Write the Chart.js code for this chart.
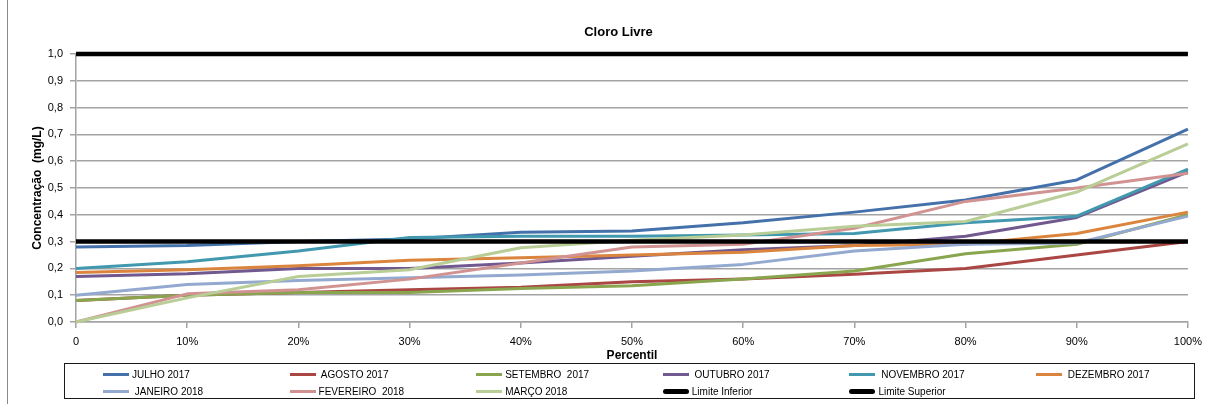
<!DOCTYPE html>
<html lang="pt">
<head>
<meta charset="utf-8">
<script src="https://cdn.jsdelivr.net/npm/chart.js@4.4.1/dist/chart.umd.min.js"></script>
<style>
  html, body { margin: 0; padding: 0; background: #ffffff; }
  #wrap { position: relative; width: 1209px; height: 404px; overflow: hidden; background: #ffffff; }
  #frame { position: absolute; left: 7px; top: 0; width: 1px; height: 404px; background: #8a8a8a; }
  #c { position: absolute; left: 0; top: 0; }
  #title { position: absolute; left: 0; top: 24px; width: 1237px; text-align: center;
           font: bold 13px "Liberation Sans", Arial, sans-serif; color: #000; }
  #legend { position: absolute; left: 64px; top: 363px; width: 1131px; height: 36px;
            border: 1.5px solid #1a1a1a; box-sizing: border-box; }
  .item { position: absolute; display: flex; align-items: center; height: 14px;
          font: 10px "Liberation Sans", Arial, sans-serif; color: #000; white-space: pre; }
  .swatch { width: 26px; margin-right: 3px; }
</style>
</head>
<body>
<div id="wrap">
  <div id="frame"></div>
  <canvas id="c" width="1209" height="404"></canvas>
  <div id="title">Cloro Livre</div>
  <div id="legend"></div>
</div>
<script>
// Percentile categories on the x axis
const percentis = ['0', '10%', '20%', '30%', '40%', '50%', '60%', '70%', '80%', '90%', '100%'];

// Y axis tick labels (mg/L, decimal comma)
const yTickLabels = ['0,0', '0,1', '0,2', '0,3', '0,4', '0,5', '0,6', '0,7', '0,8', '0,9', '1,0'];

// Free chlorine concentration per percentile, one series per month (mg/L)
const julho2017     = [0.28, 0.285, 0.30, 0.31, 0.335, 0.34, 0.37, 0.41, 0.455, 0.53, 0.72];
const agosto2017    = [0.08, 0.10, 0.11, 0.12, 0.13, 0.15, 0.16, 0.178, 0.20, 0.25, 0.30];
const setembro2017  = [0.08, 0.10, 0.11, 0.11, 0.125, 0.135, 0.16, 0.19, 0.255, 0.29, 0.40];
const outubro2017   = [0.17, 0.18, 0.20, 0.20, 0.22, 0.245, 0.27, 0.285, 0.32, 0.39, 0.56];
const novembro2017  = [0.20, 0.225, 0.265, 0.315, 0.32, 0.32, 0.325, 0.33, 0.37, 0.395, 0.57];
const dezembro2017  = [0.185, 0.195, 0.21, 0.23, 0.24, 0.25, 0.26, 0.285, 0.29, 0.33, 0.41];
const janeiro2018   = [0.10, 0.14, 0.155, 0.165, 0.175, 0.19, 0.215, 0.265, 0.29, 0.295, 0.395];
const fevereiro2018 = [0.0, 0.105, 0.12, 0.16, 0.22, 0.28, 0.29, 0.35, 0.45, 0.50, 0.555];
const marco2018     = [0.0, 0.09, 0.17, 0.195, 0.277, 0.305, 0.325, 0.357, 0.375, 0.485, 0.665];

// Regulatory limits
const limiteInferior = [0.3, 0.3, 0.3, 0.3, 0.3, 0.3, 0.3, 0.3, 0.3, 0.3, 0.3];
const limiteSuperior = [1.0, 1.0, 1.0, 1.0, 1.0, 1.0, 1.0, 1.0, 1.0, 1.0, 1.0];

const series = [
  { label: 'JULHO 2017',      data: julho2017,      color: '#4471AA', width: 3 },
  { label: ' AGOSTO 2017',    data: agosto2017,     color: '#AA4643', width: 3 },
  { label: 'SETEMBRO  2017',  data: setembro2017,   color: '#89A54E', width: 3 },
  { label: ' OUTUBRO 2017',   data: outubro2017,    color: '#71588F', width: 3 },
  { label: ' NOVEMBRO 2017',  data: novembro2017,   color: '#4198AF', width: 3 },
  { label: ' DEZEMBRO 2017',  data: dezembro2017,   color: '#DB843D', width: 3 },
  { label: ' JANEIRO 2018',   data: janeiro2018,    color: '#93A9CF', width: 3 },
  { label: 'FEVEREIRO  2018', data: fevereiro2018,  color: '#D19392', width: 3 },
  { label: 'MARÇO 2018',      data: marco2018,      color: '#B9CD96', width: 3 },
  { label: 'Limite Inferior', data: limiteInferior, color: '#000000', width: 4.5 },
  { label: 'Limite Superior', data: limiteSuperior, color: '#000000', width: 4.5 }
];

const gridColor = '#a3a3a3';
const tickFont = { family: '"Liberation Sans", Arial, sans-serif', size: 11 };

const chart = new Chart(document.getElementById('c'), {
  type: 'line',
  data: {
    labels: percentis,
    datasets: series.map((s, i) => ({
      label: s.label.trim(),
      data: s.data,
      borderColor: s.color,
      backgroundColor: s.color,
      borderWidth: s.width,
      pointRadius: 0,
      pointHoverRadius: 0,
      tension: 0,
      fill: false,
      clip: false,
      borderCapStyle: 'butt',
      borderJoinStyle: 'round',
      order: series.length - i
    }))
  },
  options: {
    responsive: false,
    animation: false,
    devicePixelRatio: 1,
    layout: { padding: { left: 0, right: 20, top: 54, bottom: 41 } },
    plugins: {
      legend: { display: false },
      title: { display: false },
      tooltip: { enabled: false }
    },
    scales: {
      x: {
        type: 'category',
        offset: false,
        afterFit: (scale) => { scale.height = 41; },
        border: { display: true, color: gridColor, width: 1.5 },
        grid: { display: true, drawOnChartArea: false, drawTicks: true, tickLength: 6, color: gridColor, lineWidth: 1.5 },
        ticks: { color: '#000', font: tickFont, padding: 7, maxRotation: 0, autoSkip: false },
        title: {
          display: true, text: 'Percentil', color: '#000',
          font: { family: '"Liberation Sans", Arial, sans-serif', size: 12, weight: 'bold' },
          padding: { top: 0, bottom: 0 }
        }
      },
      y: {
        min: 0, max: 1,
        afterFit: (scale) => { scale.width = 76; },
        border: { display: true, color: gridColor, width: 1.5 },
        grid: { color: gridColor, lineWidth: 1.5, drawTicks: true, tickLength: 6 },
        ticks: {
          stepSize: 0.1, color: '#000', font: tickFont, padding: 7,
          callback: (v, i) => yTickLabels[i]
        },
        title: {
          display: true, text: 'Concentração  (mg/L)', color: '#000',
          font: { family: '"Liberation Sans", Arial, sans-serif', size: 12, weight: 'bold' },
          padding: { top: 30, bottom: 0 }
        }
      }
    }
  }
});

// Legend: six columns, two rows, laid out like the spreadsheet legend
const legend = document.getElementById('legend');
const colStart = 38, colStep = 186.6, rowTop = [3, 20];
series.forEach((s, i) => {
  const col = i % 6, row = Math.floor(i / 6);
  const item = document.createElement('div');
  item.className = 'item';
  item.style.left = (colStart + col * colStep) + 'px';
  item.style.top = rowTop[row] + 'px';
  const sw = document.createElement('span');
  sw.className = 'swatch';
  sw.style.height = (s.width >= 4 ? 5 : 3) + 'px';
  sw.style.background = s.color;
  if (s.width >= 4) sw.style.borderRadius = '3px';
  const tx = document.createElement('span');
  tx.textContent = s.label;
  item.appendChild(sw);
  item.appendChild(tx);
  legend.appendChild(item);
});
</script>
</body>
</html>
